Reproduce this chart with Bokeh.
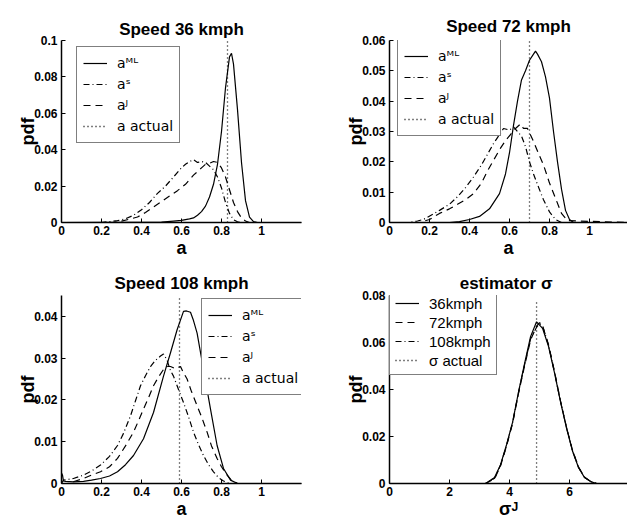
from bokeh.plotting import figure
from bokeh.layouts import column, row
from bokeh.models import Range1d, FixedTicker, Legend, LegendItem
from bokeh.embed import file_html
from bokeh.resources import INLINE

FONT = "Liberation Sans"
LEGEND_FONT = "DejaVu Sans"

# ---------------- data ----------------
a_ticks = [0, 0.2, 0.4, 0.6, 0.8, 1]
a_tick_labels = ["0", "0.2", "0.4", "0.6", "0.8", "1"]
sig_ticks = [0, 2, 4, 6, 8]
sig_tick_labels = ["0", "2", "4", "6", "8"]

y36_ticks = [0, 0.02, 0.04, 0.06, 0.08, 0.1]
y36_labels = ["0", "0.02", "0.04", "0.06", "0.08", "0.1"]
y72_ticks = [0, 0.01, 0.02, 0.03, 0.04, 0.05, 0.06]
y72_labels = ["0", "0.01", "0.02", "0.03", "0.04", "0.05", "0.06"]
y108_ticks = [0, 0.01, 0.02, 0.03, 0.04]
y108_labels = ["0", "0.01", "0.02", "0.03", "0.04"]
ysig_ticks = [0, 0.02, 0.04, 0.06, 0.08]
ysig_labels = ["0", "0.02", "0.04", "0.06", "0.08"]

a_actual = [0.83, 0.70, 0.59]
sigma_actual = 4.9

# Speed 36 kmph
x_ml36 = [0, 0.5, 0.56, 0.6, 0.64, 0.66, 0.68, 0.70, 0.72, 0.74, 0.76, 0.78, 0.80, 0.82, 0.84, 0.85, 0.86, 0.88, 0.90, 0.92, 0.94, 0.96, 0.98, 1.2]
y_ml36 = [0, 0.0002, 0.0008, 0.0012, 0.002, 0.0025, 0.004, 0.006, 0.009, 0.014, 0.021, 0.032, 0.050, 0.074, 0.091, 0.093, 0.087, 0.062, 0.033, 0.012, 0.003, 0.0005, 0, 0]
x_s36 = [0, 0.2, 0.24, 0.28, 0.32, 0.36, 0.40, 0.44, 0.48, 0.52, 0.56, 0.60, 0.62, 0.64, 0.66, 0.68, 0.70, 0.72, 0.74, 0.76, 0.78, 0.80, 0.82, 0.84, 0.86, 0.88, 0.90, 1.2]
y_s36 = [0, 0, 0.0005, 0.001, 0.002, 0.004, 0.007, 0.011, 0.016, 0.020, 0.025, 0.030, 0.032, 0.0335, 0.0345, 0.033, 0.0335, 0.033, 0.031, 0.029, 0.025, 0.019, 0.011, 0.005, 0.0015, 0.0004, 0, 0]
x_j36 = [0, 0.26, 0.30, 0.34, 0.38, 0.42, 0.46, 0.50, 0.54, 0.58, 0.62, 0.66, 0.70, 0.72, 0.74, 0.76, 0.78, 0.80, 0.82, 0.84, 0.86, 0.88, 0.90, 0.92, 0.94, 1.2]
y_j36 = [0, 0, 0.0008, 0.0018, 0.003, 0.0055, 0.0085, 0.0115, 0.0145, 0.0175, 0.021, 0.026, 0.030, 0.032, 0.0325, 0.0335, 0.033, 0.030, 0.025, 0.018, 0.011, 0.006, 0.0025, 0.0008, 0, 0]

# Speed 72 kmph
x_ml72 = [0, 0.30, 0.35, 0.40, 0.45, 0.50, 0.55, 0.58, 0.60, 0.62, 0.64, 0.66, 0.68, 0.70, 0.72, 0.73, 0.74, 0.76, 0.78, 0.80, 0.82, 0.84, 0.86, 0.88, 0.90, 0.92, 1.19]
y_ml72 = [0, 0, 0.0003, 0.001, 0.002, 0.0045, 0.0095, 0.016, 0.023, 0.032, 0.040, 0.047, 0.050, 0.0535, 0.0555, 0.0565, 0.0555, 0.053, 0.048, 0.041, 0.030, 0.020, 0.011, 0.004, 0.001, 0, 0]
x_s72 = [0, 0.10, 0.14, 0.17, 0.21, 0.25, 0.30, 0.34, 0.38, 0.42, 0.46, 0.49, 0.52, 0.54, 0.57, 0.60, 0.62, 0.64, 0.66, 0.68, 0.70, 0.72, 0.74, 0.77, 0.80, 0.83, 0.86, 1.19]
y_s72 = [0, 0, 0.0005, 0.001, 0.0025, 0.004, 0.006, 0.0085, 0.0115, 0.015, 0.019, 0.0225, 0.026, 0.028, 0.031, 0.0305, 0.0315, 0.030, 0.0285, 0.025, 0.020, 0.016, 0.0125, 0.0075, 0.0035, 0.001, 0, 0]
x_j72 = [0, 0.15, 0.20, 0.25, 0.30, 0.34, 0.38, 0.42, 0.46, 0.49, 0.52, 0.555, 0.58, 0.605, 0.63, 0.655, 0.67, 0.69, 0.72, 0.75, 0.77, 0.80, 0.83, 0.86, 0.89, 1.19]
y_j72 = [0, 0, 0.001, 0.003, 0.0045, 0.006, 0.0075, 0.0095, 0.013, 0.017, 0.0205, 0.0245, 0.027, 0.029, 0.031, 0.0325, 0.031, 0.031, 0.0267, 0.022, 0.019, 0.013, 0.008, 0.003, 0.0006, 0]

# Speed 108 kmph
x_ml108 = [0, 0.005, 0.01, 0.02, 0.06, 0.11, 0.15, 0.195, 0.24, 0.28, 0.32, 0.36, 0.41, 0.46, 0.51, 0.545, 0.578, 0.61, 0.625, 0.645, 0.66, 0.678, 0.71, 0.745, 0.778, 0.81, 0.845, 0.88, 1.2]
y_ml108 = [0.0025, 0.002, 0.0006, 0.0005, 0.0004, 0.0005, 0.0008, 0.0012, 0.0018, 0.0028, 0.0045, 0.0067, 0.0107, 0.017, 0.0257, 0.0313, 0.0368, 0.0412, 0.0413, 0.041, 0.039, 0.036, 0.0273, 0.0178, 0.0091, 0.0036, 0.0008, 0, 0]
x_s108 = [0, 0.01, 0.06, 0.11, 0.15, 0.195, 0.24, 0.28, 0.31, 0.345, 0.37, 0.395, 0.42, 0.445, 0.47, 0.495, 0.51, 0.528, 0.545, 0.56, 0.585, 0.61, 0.635, 0.66, 0.685, 0.71, 0.735, 0.76, 0.785, 0.81, 0.84, 1.2]
y_s108 = [0, 0.0008, 0.0012, 0.002, 0.003, 0.0044, 0.0065, 0.0091, 0.012, 0.0162, 0.0198, 0.0234, 0.0258, 0.028, 0.0295, 0.0305, 0.031, 0.0295, 0.027, 0.0257, 0.0225, 0.0194, 0.016, 0.0123, 0.0093, 0.0067, 0.0045, 0.0028, 0.0014, 0.0006, 0, 0]
x_j108 = [0, 0.03, 0.07, 0.11, 0.15, 0.195, 0.24, 0.28, 0.32, 0.36, 0.385, 0.41, 0.435, 0.46, 0.485, 0.51, 0.53, 0.545, 0.57, 0.595, 0.61, 0.628, 0.65, 0.678, 0.70, 0.728, 0.75, 0.778, 0.80, 0.828, 0.85, 0.88, 1.2]
y_j108 = [0, 0, 0.0006, 0.0012, 0.002, 0.0028, 0.004, 0.006, 0.009, 0.0123, 0.015, 0.0178, 0.0205, 0.0234, 0.0255, 0.0273, 0.028, 0.028, 0.0275, 0.028, 0.0265, 0.025, 0.022, 0.0186, 0.016, 0.0123, 0.009, 0.006, 0.004, 0.002, 0.0008, 0, 0]

# estimator sigma
x_sig = [0, 3.2, 3.5, 3.7, 3.9, 4.1, 4.3, 4.5, 4.7, 4.9, 5.0, 5.1, 5.3, 5.5, 5.7, 5.9, 6.1, 6.3, 6.5, 6.7, 6.9, 7.93]
y_sig36 = [0, 0, 0.0025, 0.008, 0.0165, 0.026, 0.039, 0.051, 0.0625, 0.0688, 0.0674, 0.066, 0.0583, 0.047, 0.0346, 0.0235, 0.0137, 0.0067, 0.0025, 0.0008, 0, 0]
y_sig72 = [0, 0, 0.002, 0.0075, 0.016, 0.0255, 0.0385, 0.050, 0.061, 0.067, 0.0685, 0.067, 0.059, 0.0475, 0.035, 0.0238, 0.014, 0.007, 0.0027, 0.0009, 0, 0]
y_sig108 = [0, 0, 0.0022, 0.0078, 0.0162, 0.0258, 0.0388, 0.0505, 0.0615, 0.0665, 0.068, 0.0672, 0.0588, 0.0472, 0.0348, 0.0237, 0.0139, 0.0068, 0.0026, 0.0009, 0, 0]

SOLID, DASHDOT, DASHED, DOTTED = "solid", "6 3 1 3", "7 5", "1 3"


def make_panel(width, height, borders, xr, yr, xticks, xlabels, yticks, ylabels,
               title, xlabel, title_standoff):
    p = figure(width=width, height=height, output_backend="svg", toolbar_location=None,
               x_range=Range1d(*xr), y_range=Range1d(*yr),
               min_border_left=borders[0], min_border_right=borders[1],
               min_border_top=borders[2], min_border_bottom=borders[3])
    p.outline_line_color = None
    p.grid.visible = False
    p.title.text = title
    p.title.align = "center"
    p.title.text_font = FONT
    p.title.text_font_style = "bold"
    p.title.text_font_size = "17px"
    p.title.text_color = "black"
    p.title.standoff = title_standoff
    p.xaxis.ticker = FixedTicker(ticks=xticks)
    p.xaxis.major_label_overrides = dict(zip(xticks, xlabels))
    p.yaxis.ticker = FixedTicker(ticks=yticks)
    p.yaxis.major_label_overrides = dict(zip(yticks, ylabels))
    p.xaxis.axis_label = xlabel
    p.yaxis.axis_label = "pdf"
    for ax in (p.xaxis[0], p.yaxis[0]):
        ax.axis_line_width = 1.5
        ax.axis_line_color = "black"
        ax.major_tick_in = 4
        ax.major_tick_out = 0
        ax.major_tick_line_color = "black"
        ax.minor_tick_line_color = None
        ax.major_label_text_font = FONT
        ax.major_label_text_font_style = "bold"
        ax.major_label_text_font_size = "12px"
        ax.major_label_text_color = "black"
        ax.axis_label_text_font = FONT
        ax.axis_label_text_font_style = "bold"
        ax.axis_label_text_font_size = "18px"
        ax.axis_label_text_color = "black"
    p.xaxis.major_label_standoff = 3
    p.xaxis.axis_label_standoff = 0
    p.yaxis.major_label_standoff = 4
    p.yaxis.axis_label_standoff = -7
    return p


def add_legend(p, items, loc, label_height=20, padding=6, font=FONT, size="15px"):
    lg = Legend(items=[LegendItem(label=l, renderers=[r]) for l, r in items],
                location=loc, border_line_color="black", border_line_width=1,
                label_text_font=font, label_text_font_size=size,
                label_text_color="black",
                glyph_width=24, glyph_height=label_height, label_height=label_height,
                label_standoff=10, padding=padding, spacing=1, margin=0,
                background_fill_alpha=1.0)
    p.add_layout(lg)


def a_panel(width, height, borders, xend, yend, yticks, ylabels, title, series, actual,
            legend_loc, title_standoff):
    p = make_panel(width, height, borders, (0, xend), (0, yend), a_ticks, a_tick_labels,
                   yticks, ylabels, title, "a", title_standoff)
    (xm, ym), (xs, ys), (xj, yj) = series
    r1 = p.line(xm, ym, line_color="black", line_width=1.2, line_dash=SOLID)
    r2 = p.line(xs, ys, line_color="black", line_width=1.2, line_dash=DASHDOT)
    r3 = p.line(xj, yj, line_color="black", line_width=1.2, line_dash=DASHED)
    r4 = p.line([actual, actual], [0, yend], line_color="black", line_width=1.3, line_dash=DOTTED)
    add_legend(p, [("a\u1d39\u1d38", r1), ("a\u02e2", r2), ("a\u1d36", r3), ("a actual", r4)],
               legend_loc, font=LEGEND_FONT, size="14px")
    return p


p1 = a_panel(313, 260, (61, 12, 34, 35), 1.2, 0.1, y36_ticks, y36_labels, "Speed 36 kmph",
             [(x_ml36, y_ml36), (x_s36, y_s36), (x_j36, y_j36)], a_actual[0], (15, 79), 4)
p2 = a_panel(314, 260, (76, 0, 40, 34), 1.19, 0.06, y72_ticks, y72_labels, "Speed 72 kmph",
             [(x_ml72, y_ml72), (x_s72, y_s72), (x_j72, y_j72)], a_actual[1], (8, 86), 10)
p3 = a_panel(313, 261, (61, 12, 35, 36), 1.2, 0.045, y108_ticks, y108_labels, "Speed 108 kmph",
             [(x_ml108, y_ml108), (x_s108, y_s108), (x_j108, y_j108)], a_actual[2], (140, 88), 5)

p4 = make_panel(314, 261, (76, 0, 35, 35), (0, 7.93), (0, 0.08), sig_ticks, sig_tick_labels,
                ysig_ticks, ysig_labels, "estimator  \u03c3", "\u03c3\u1d36", 5)
q1 = p4.line(x_sig, y_sig36, line_color="black", line_width=1.2, line_dash=SOLID)
q2 = p4.line(x_sig, y_sig72, line_color="black", line_width=1.2, line_dash=DASHED)
q3 = p4.line(x_sig, y_sig108, line_color="black", line_width=1.2, line_dash=DASHDOT)
q4 = p4.line([sigma_actual, sigma_actual], [0, 0.078], line_color="black", line_width=1.3,
             line_dash=DOTTED)
add_legend(p4, [("36kmph", q1), ("72kmph", q2), ("108kmph", q3), ("\u03c3 actual", q4)],
           (0, 108), label_height=18, padding=5)

layout = column(row(p1, p2), row(p3, p4))
open("out.html", "w").write(file_html(layout, INLINE))
